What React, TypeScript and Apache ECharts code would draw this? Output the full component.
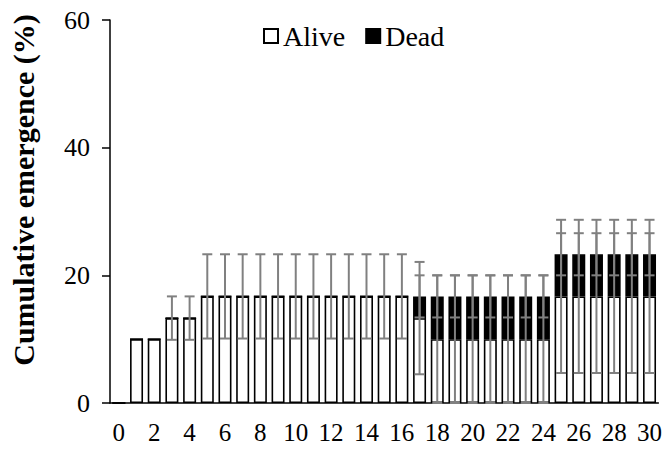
import React, { useEffect, useRef } from "react";
import * as echarts from "echarts";

const days: string[] = Array.from({ length: 31 }, (_, i) => String(i));

const alive: number[] = [
  0, 10, 10, 13.3, 13.3,
  16.7, 16.7, 16.7, 16.7, 16.7, 16.7, 16.7, 16.7, 16.7, 16.7, 16.7, 16.7,
  13.3,
  10, 10, 10, 10, 10, 10, 10,
  16.7, 16.7, 16.7, 16.7, 16.7, 16.7,
];

const dead: number[] = [
  0, 0, 0, 0, 0,
  0, 0, 0, 0, 0, 0, 0, 0, 0, 0, 0, 0,
  3.4,
  6.7, 6.7, 6.7, 6.7, 6.7, 6.7, 6.7,
  6.6, 6.6, 6.6, 6.6, 6.6, 6.6,
];

const aliveErr: number[] = [
  0, 0, 0, 3.4, 3.4,
  6.6, 6.6, 6.6, 6.6, 6.6, 6.6, 6.6, 6.6, 6.6, 6.6, 6.6, 6.6,
  8.8,
  10, 10, 10, 10, 10, 10, 10,
  12, 12, 12, 12, 12, 12,
];

const totalErr: number[] = [
  0, 0, 0, 0, 0,
  0, 0, 0, 0, 0, 0, 0, 0, 0, 0, 0, 0,
  3.3,
  3.3, 3.3, 3.3, 3.3, 3.3, 3.3, 3.3,
  3.3, 3.3, 3.3, 3.3, 3.3, 3.3,
];

const yTicks = { min: 0, max: 60, interval: 20 };

const FONT = "Liberation Serif";

export default function App() {
  const ref = useRef<HTMLDivElement>(null);

  useEffect(() => {
    document.body.style.margin = "0";
    document.body.style.overflow = "hidden";
    if (!ref.current) return;
    const chart = echarts.init(ref.current, undefined, { renderer: "svg" });

    const errData: number[][] = [];
    days.forEach((_, i) => {
      if (aliveErr[i] > 0) {
        errData.push([i, alive[i] - aliveErr[i], alive[i] + aliveErr[i]]);
      }
      if (totalErr[i] > 0) {
        const t = alive[i] + dead[i];
        errData.push([i, t - totalErr[i], t + totalErr[i]]);
      }
    });

    const capHalf = 5;
    const errStyle = { stroke: "#808080", lineWidth: 2 };

    chart.setOption({
      animation: false,
      backgroundColor: "#ffffff",
      textStyle: { fontFamily: FONT },
      grid: { left: 110, right: 5, top: 20, bottom: 46, containLabel: false },
      legend: {
        data: ["Alive", "Dead"],
        left: 258,
        top: 17,
        icon: "rect",
        itemWidth: 14,
        itemHeight: 14,
        itemGap: 20,
        textStyle: { fontFamily: FONT, fontSize: 28, color: "#000" },
      },
      xAxis: {
        type: "category",
        data: days,
        boundaryGap: true,
        axisLine: { lineStyle: { color: "#000", width: 1.5 } },
        axisTick: {
          alignWithLabel: true,
          interval: 0,
          length: 6,
          lineStyle: { color: "#000", width: 1.5 },
        },
        axisLabel: {
          interval: 1,
          fontFamily: FONT,
          fontSize: 25,
          color: "#000",
          margin: 17,
        },
        splitLine: { show: false },
      },
      yAxis: {
        type: "value",
        min: yTicks.min,
        max: yTicks.max,
        interval: yTicks.interval,
        axisLine: { show: true, lineStyle: { color: "#000", width: 1.5 } },
        axisTick: { show: true, length: 8, lineStyle: { color: "#000", width: 1.5 } },
        axisLabel: { fontFamily: FONT, fontSize: 26, color: "#000", margin: 20 },
        splitLine: { show: false },
      },
      graphic: [
        {
          type: "text",
          x: 23,
          y: 190,
          rotation: Math.PI / 2,
          style: {
            text: "Cumulative emergence (%)",
            fontFamily: FONT,
            fontWeight: "bold",
            fontSize: 30,
            fill: "#000",
            align: "center",
            verticalAlign: "middle",
          },
        },
      ],
      series: [
        {
          name: "Alive",
          type: "bar",
          stack: "total",
          data: alive,
          barWidth: 13,
          itemStyle: { color: "#ffffff", borderColor: "#000", borderWidth: 1.6 },
        },
        {
          name: "Dead",
          type: "bar",
          stack: "total",
          data: dead,
          barWidth: 13,
          itemStyle: { color: "#000000", borderColor: "#000", borderWidth: 1.6 },
        },
        {
          name: "err",
          type: "custom",
          z: 5,
          data: errData,
          renderItem: (params: any, api: any) => {
            const x = api.value(0);
            const lo = api.coord([x, api.value(1)]);
            const hi = api.coord([x, api.value(2)]);
            const cx = lo[0];
            return {
              type: "group",
              children: [
                { type: "line", shape: { x1: cx, y1: lo[1], x2: cx, y2: hi[1] }, style: errStyle },
                { type: "line", shape: { x1: cx - capHalf, y1: lo[1], x2: cx + capHalf, y2: lo[1] }, style: errStyle },
                { type: "line", shape: { x1: cx - capHalf, y1: hi[1], x2: cx + capHalf, y2: hi[1] }, style: errStyle },
              ],
            };
          },
        },
      ],
    });

    return () => chart.dispose();
  }, []);

  return <div ref={ref} style={{ width: 665, height: 449 }} />;
}
